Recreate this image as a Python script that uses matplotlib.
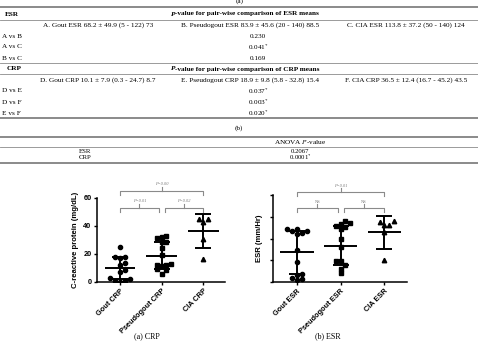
import numpy as np
import matplotlib
matplotlib.use("Agg")
import matplotlib.pyplot as plt
from matplotlib.lines import Line2D

plt.rcParams['mathtext.fontset'] = 'stix'

# ---- table data ----
esr_groups = ['A. Gout ESR 68.2 \u00b1 49.9 (5 - 122) 73',
              'B. Pseudogout ESR 83.9 \u00b1 45.6 (20 - 140) 88.5',
              'C. CIA ESR 113.8 \u00b1 37.2 (50 - 140) 124']
esr_pairs = ['A vs B', 'A vs C', 'B vs C']
esr_pvals = ['0.230', '0.041$^{*}$', '0.169']
crp_groups = ['D. Gout CRP 10.1 \u00b1 7.9 (0.3 - 24.7) 8.7',
              'E. Pseudogout CRP 18.9 \u00b1 9.8 (5.8 - 32.8) 15.4',
              'F. CIA CRP 36.5 \u00b1 12.4 (16.7 - 45.2) 43.5']
crp_pairs = ['D vs E', 'D vs F', 'E vs F']
crp_pvals = ['0.037$^{*}$', '0.003$^{*}$', '0.020$^{*}$']
anova_rows = ['ESR', 'CRP']
anova_pvals = ['0.2067', '0.0001$^{*}$']

# ---- plot data ----
crp_labels = ['Gout CRP', 'Pseudogout CRP', 'CIA CRP']
crp_gout = [24.7, 18.2, 17.8, 17.5, 13.5, 12.0, 8.5, 7.0, 3.0, 2.5, 0.8, 0.3, 0.5]
crp_pseudo = [32.8, 32.0, 31.5, 28.5, 28.5, 24.0, 19.0, 12.5, 12.0, 11.5, 12.8, 9.0, 8.5, 5.8]
crp_cia = [45.2, 44.8, 43.0, 31.0, 16.7]
crp_mean = [10.1, 18.9, 36.5]
crp_sd = [7.9, 9.8, 12.4]
crp_brackets = [(0, 1, 'P=0.01'), (1, 2, 'P=0.02'), (0, 2, 'P=0.00')]

esr_labels = ['Gout ESR', 'Pseudogout ESR', 'CIA ESR']
esr_gout = [122, 118, 118, 113, 121, 110, 73, 45, 18, 17, 6, 9, 5]
esr_pseudo = [140, 136, 133, 129, 126, 122, 98, 81, 48, 48, 38, 31, 20]
esr_cia = [140, 138, 130, 130, 115, 50]
esr_mean = [68.2, 83.9, 113.8]
esr_sd = [49.9, 45.6, 37.2]
esr_brackets = [(0, 1, 'NS'), (1, 2, 'NS'), (0, 2, 'P=0.01')]

W, H = 478, 342
fig = plt.figure(figsize=(W / 100, H / 100), dpi=100)


def fx(x):
    return x / W


def fy(y):
    return 1 - y / H


serif = 'Liberation Serif'
fs = 5.2
gray = '#8a8a8a'


def hline(y, lw):
    fig.add_artist(Line2D([0, 1], [fy(y)] * 2, color=gray, lw=lw,
                          transform=fig.transFigure))


def txt(x, y, s, **kw):
    kw.setdefault('family', serif)
    kw.setdefault('size', fs)
    kw.setdefault('ha', 'center')
    return fig.text(fx(x), fy(y), s, va='center', **kw)


def bold_p_header(xc, y, rest):
    # "P" bold italic followed by bold text, centred on xc
    t1 = txt(0, y, 'P', weight='bold', style='italic', ha='left')
    t2 = fig.text(0, 0, rest, family=serif, size=fs, weight='bold')
    r = fig.canvas.get_renderer()
    w1 = t1.get_window_extent(r).width
    w2 = t2.get_window_extent(r).width
    x0 = xc - (w1 + w2) / 2
    t1.set_x(fx(x0))
    t2.set_position((fx(x0 + w1), fy(y)))
    t2.set_va('center')


txt(240, 1, '(a)')
hline(7, 1.4)
txt(5, 14, 'ESR', weight='bold', ha='left')
bold_p_header(245, 14, '-value for pair-wise comparison of ESR means')
hline(20, 0.6)
for xc, s in zip([98, 250, 406], esr_groups):
    txt(xc, 25, s)
for y, pair, p in zip([36, 47, 58], esr_pairs, esr_pvals):
    txt(2, y, pair, ha='left')
    txt(258, y, p)
hline(63, 0.6)
txt(7, 69, 'CRP', weight='bold', ha='left')
bold_p_header(245, 69, '-value for pair-wise comparison of CRP means')
hline(74, 0.6)
for xc, s in zip([98, 250, 406], crp_groups):
    txt(xc, 80, s)
for y, pair, p in zip([91, 102, 113], crp_pairs, crp_pvals):
    txt(2, y, pair, ha='left')
    txt(258, y, p)
hline(118, 1.4)

txt(239, 128, '(b)')
hline(136.5, 1.4)
txt(300, 142, 'ANOVA $P$-value')
hline(147, 0.6)
for y, name, p in zip([151.3, 157.3], anova_rows, anova_pvals):
    txt(85, y, name, size=4.9)
    txt(300, y, p, size=4.9)
hline(162.5, 1.4)


def swarm(ax, x0, vals, marker, ms, d):
    trans = ax.transData
    placed = []
    xs = []
    for v in sorted(vals):
        px, py = trans.transform((x0, v))
        cx = px
        for k in [0, 1, -1, 2, -2, 3, -3, 4, -4]:
            cx = px + k * d
            if all((cx - a) ** 2 + (py - b) ** 2 >= (d * 0.95) ** 2 for a, b in placed):
                break
        placed.append((cx, py))
        xs.append(trans.inverted().transform((cx, py))[0])
    ax.plot(xs, sorted(vals), ls='none', marker=marker, ms=ms, color='black',
            mec='black')


def dot_plot(ax, groups, means, sds, labels, ymax, yticks, show_yt, ylabel,
             brackets, brk_y, brk_h, txt_off, mean_w):
    ax.set_xlim(-0.55, 2.52)
    ax.set_ylim(0, ymax)
    for sp in ['top', 'right']:
        ax.spines[sp].set_visible(False)
    for sp in ['left', 'bottom']:
        ax.spines[sp].set_linewidth(1.1)
    ax.set_yticks(yticks)
    if not show_yt:
        ax.set_yticklabels([])
    ax.set_xticks(range(3))
    ax.set_xticklabels(labels, rotation=45, ha='right', rotation_mode='anchor',
                       family='Liberation Sans', weight='bold', size=5.3)
    for lab in ax.get_yticklabels():
        lab.set_family('Liberation Sans')
        lab.set_weight('bold')
        lab.set_size(5.3)
    ax.tick_params(width=1.0, length=2.5, pad=1.5)
    ax.set_ylabel(ylabel, family='Liberation Sans', weight='bold', size=5.6,
                  labelpad=3)
    for i, (vals, mk, ms) in enumerate(zip(groups, ['o', 's', '^'], [3.0, 3.2, 3.2])):
        swarm(ax, i, vals, mk, ms, 4.8)
        ax.hlines(means[i], i - mean_w, i + mean_w, color='black', lw=1.4)
        ax.errorbar(i, means[i], yerr=sds[i], color='black', lw=1.4,
                    capsize=6, capthick=1.4)
    for (a, b, s), yb in zip(brackets, brk_y):
        a2 = a + (0.07 if (b - a) == 1 and a == 1 else 0)
        b2 = b - (0.07 if (b - a) == 1 and a == 0 else 0)
        ax.plot([a2, a2, b2, b2], [yb - brk_h, yb, yb, yb - brk_h], color=gray,
                lw=0.8, clip_on=False)
        m = (a2 + b2) / 2
        ax.plot([m, m], [yb, yb + brk_h], color=gray, lw=0.8, clip_on=False)
        ax.text(m, yb + txt_off, s, ha='center', va='bottom', size=3.2,
                color='#777777', family=serif, style='italic' if s != 'NS' else 'normal',
                clip_on=False)


ax1 = fig.add_axes([fx(97), fy(282), fx(225 - 97), (282 - 198) / H])
dot_plot(ax1, [crp_gout, crp_pseudo, crp_cia], crp_mean, crp_sd, crp_labels,
         60, [0, 20, 40, 60], True, 'C-reactive protein (mg/dL)',
         crp_brackets, [53, 53, 65], 2.9, 3.4, 0.37)

ax2 = fig.add_axes([fx(273), fy(282), fx(407 - 273), (282 - 195) / H])
dot_plot(ax2, [esr_gout, esr_pseudo, esr_cia], esr_mean, esr_sd, esr_labels,
         200, [0, 50, 100, 150, 200], False, 'ESR (mm/Hr)',
         esr_brackets, [170, 170, 207], 9, 10, 0.38)

txt(147, 336, '(a) CRP', size=5.8)
txt(328, 336, '(b) ESR', size=5.8)

fig.savefig('out.png', dpi=100)
